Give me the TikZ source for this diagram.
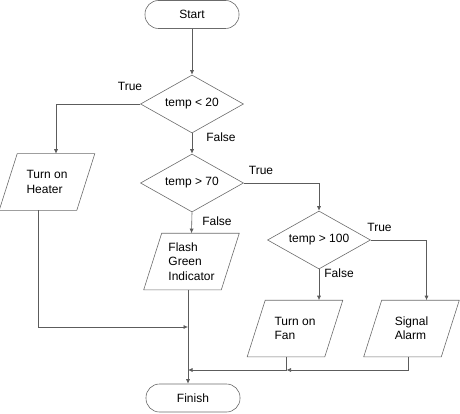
\documentclass[tikz,border=0pt]{standalone}
\usepackage{fontspec}
\setmainfont{Liberation Sans}
\usetikzlibrary{shapes.geometric,arrows.meta,calc}
\definecolor{LineClr}{rgb}{0.36,0.36,0.36}
\definecolor{ShapeClr}{rgb}{0.42,0.42,0.42}

\begin{document}
\begin{tikzpicture}[x=1pt,y=-1pt,font=\fontsize{12}{14.3}\selectfont,line width=0.6pt,
  >={Latex[length=4.5pt,width=4pt]},
  term/.style={draw=ShapeClr,rectangle,rounded corners=13.5pt,minimum width=94pt,minimum height=28pt,inner sep=0pt},
  decision/.style={draw=ShapeClr,diamond,aspect=1.78,minimum width=103pt,minimum height=58pt,inner sep=0pt},
  io/.style={rectangle,minimum width=77pt,minimum height=56pt,align=left,inner sep=0pt},
  flow/.style={draw=LineClr,->},
  lbl/.style={inner sep=0pt}]
\useasboundingbox (0,0) rectangle (460,414);

\node[term] (start) at (192,14.5) {Start};
\node[decision] (d1) at (192,104) {temp < 20};
\node[decision] (d2) at (192,183) {temp > 70};
\node[decision] (d3) at (319,240) {temp > 100};

\node[io] (heater) at (47,182) {Turn on\\Heater};
\node[io] (flash) at (191.5,261.5) {Flash\\Green\\Indicator};
\node[io] (fan) at (295,328.5) {Turn on\\Fan};
\node[io] (alarm) at (411.5,328.5) {Signal\\Alarm};

\node[term] (finish) at (193,398) {Finish};

% slanted boxes
\foreach \n in {heater,flash,fan,alarm}
  \draw[ShapeClr] ([xshift=-9pt]\n.south west) -- ([xshift=-9pt]\n.south east)
    -- ([xshift=9pt]\n.north east) -- ([xshift=9pt]\n.north west) -- cycle;

% branch labels
\node[lbl] (t1) at (130,86) {True};
\node[lbl] (f1) at (221,137.5) {False};
\node[lbl] (t2) at (261,170) {True};
\node[lbl] (f2) at (217,221.5) {False};
\node[lbl] (t3) at (379.5,227.5) {True};
\node[lbl] (f3) at (339,273.5) {False};

\coordinate (j1) at (188,327);
\coordinate (j2) at (188,370);

\draw[flow] (start) -- (d1);
\draw[flow] (d1) -- (d2);
\draw[flow] (d1.west) -| ([xshift=9pt]heater.north);
\draw[flow] (d2.south) -- (flash.north);
\draw[flow] (d2.east) -| (d3.north);
\draw[flow] (d3.south) -- (d3.south |- fan.north);
\draw[flow] (d3.east) -| ([xshift=15pt]alarm.north);

% back to finish
\draw[flow] ([xshift=-9pt]heater.south) |- (j1);
\draw[flow] ([xshift=-8.5pt]fan.south) |- (j2);
\draw[flow] ([xshift=-3.5pt]alarm.south) |- ([xshift=-8.5pt]fan.south |- j2);
\draw[flow] (j1 |- flash.south) -- (j1 |- finish.north);

\end{tikzpicture}
\end{document}
